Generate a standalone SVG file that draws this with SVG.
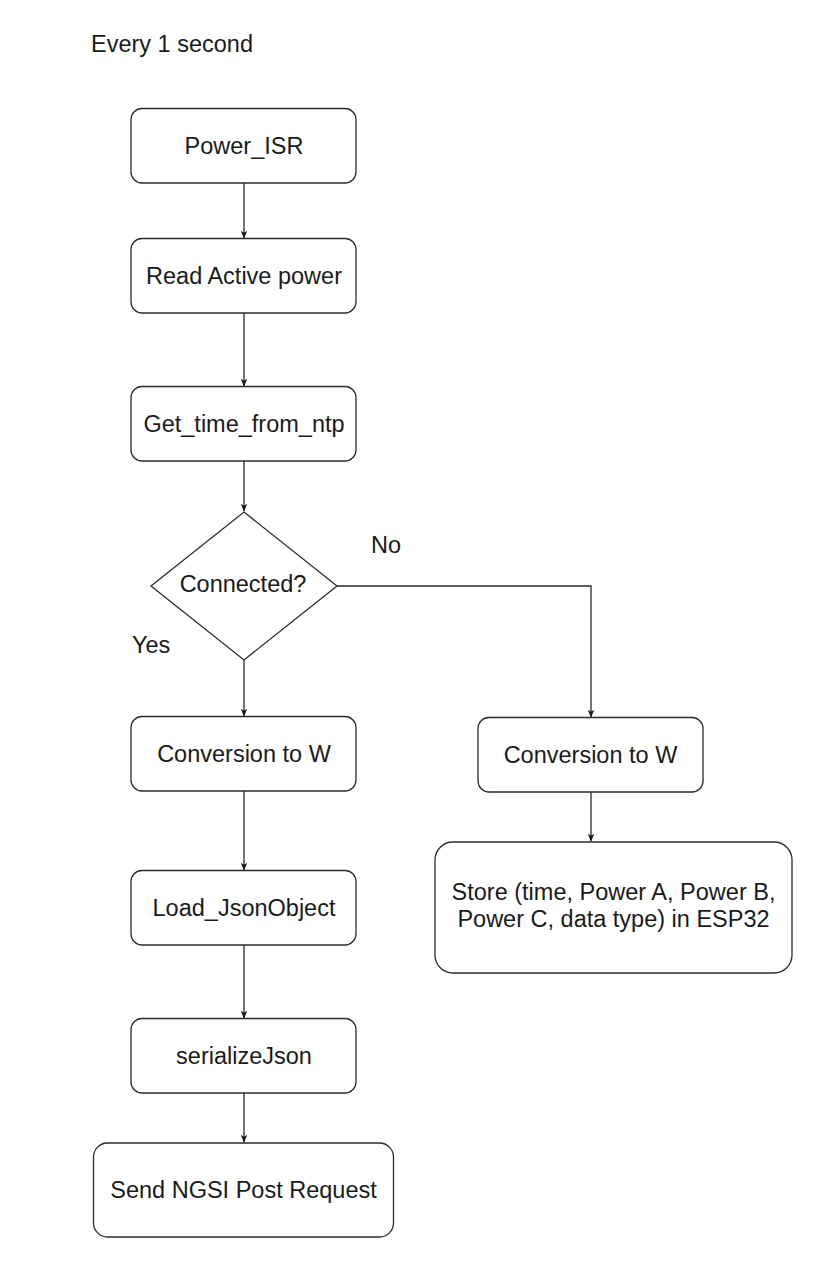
<svg xmlns="http://www.w3.org/2000/svg" width="827" height="1288" viewBox="0 0 827 1288">
<defs>
<style>
.box{fill:#fff;stroke:#2b2b2b;stroke-width:1.3}
.t{font-family:"Liberation Sans",Arial,sans-serif;font-size:23.5px;fill:#1a1a1a;text-anchor:middle}
.l{font-family:"Liberation Sans",Arial,sans-serif;font-size:23.5px;fill:#1a1a1a}
.c{fill:none;stroke:#2b2b2b;stroke-width:1.3}
</style>
<marker id="ah" viewBox="0 0 10 10" refX="9" refY="5" markerWidth="8" markerHeight="8" markerUnits="userSpaceOnUse" orient="auto">
<path d="M0,1 L10,5 L0,9 L2.5,5 Z" fill="#1a1a1a"/>
</marker>
</defs>
<rect width="827" height="1288" fill="#fff"/>
<text class="l" x="91" y="52">Every 1 second</text>
<g id="connectors">
<path class="c" d="M244,183 V238" marker-end="url(#ah)"/>
<path class="c" d="M244,313 V386" marker-end="url(#ah)"/>
<path class="c" d="M244,461 V511" marker-end="url(#ah)"/>
<path class="c" d="M244,660 V716" marker-end="url(#ah)"/>
<path class="c" d="M244,791 V870" marker-end="url(#ah)"/>
<path class="c" d="M244,945 V1018" marker-end="url(#ah)"/>
<path class="c" d="M244,1093 V1142" marker-end="url(#ah)"/>
<path class="c" d="M337,586 H591 V717" marker-end="url(#ah)"/>
<path class="c" d="M591,792 V841" marker-end="url(#ah)"/>
</g>
<g id="power_isr"><rect class="box" x="131" y="108.5" width="225" height="74.5" rx="11"/><text class="t" x="244" y="154">Power_ISR</text></g>
<g id="read_active_power"><rect class="box" x="131" y="238.5" width="225" height="74.5" rx="11"/><text class="t" x="244" y="284">Read Active power</text></g>
<g id="get_time"><rect class="box" x="131" y="386.5" width="225" height="74.5" rx="11"/><text class="t" x="244" y="432">Get_time_from_ntp</text></g>
<g id="connected"><path class="box" d="M244,512 L337,586 L244,660 L151,586 Z"/><text class="t" x="243" y="592">Connected?</text></g>
<text class="l" x="132" y="653">Yes</text>
<text class="l" x="371" y="553">No</text>
<g id="conv_left"><rect class="box" x="131" y="716.5" width="225" height="74.5" rx="11"/><text class="t" x="244" y="762">Conversion to W</text></g>
<g id="conv_right"><rect class="box" x="478" y="717.5" width="225" height="74.5" rx="11"/><text class="t" x="590.5" y="763">Conversion to W</text></g>
<g id="store"><rect class="box" x="435" y="842" width="357" height="131" rx="18"/><text class="t" x="613.5" y="900">Store (time, Power A, Power B,</text><text class="t" x="613.5" y="927">Power C, data type) in ESP32</text></g>
<g id="load_json"><rect class="box" x="131" y="870.5" width="225" height="74.5" rx="11"/><text class="t" x="244" y="916">Load_JsonObject</text></g>
<g id="serialize"><rect class="box" x="131" y="1018.5" width="225" height="74.5" rx="11"/><text class="t" x="244" y="1064">serializeJson</text></g>
<g id="send_ngsi"><rect class="box" x="93.5" y="1143" width="300" height="94" rx="14"/><text class="t" x="243.5" y="1198">Send NGSI Post Request</text></g>
</svg>
